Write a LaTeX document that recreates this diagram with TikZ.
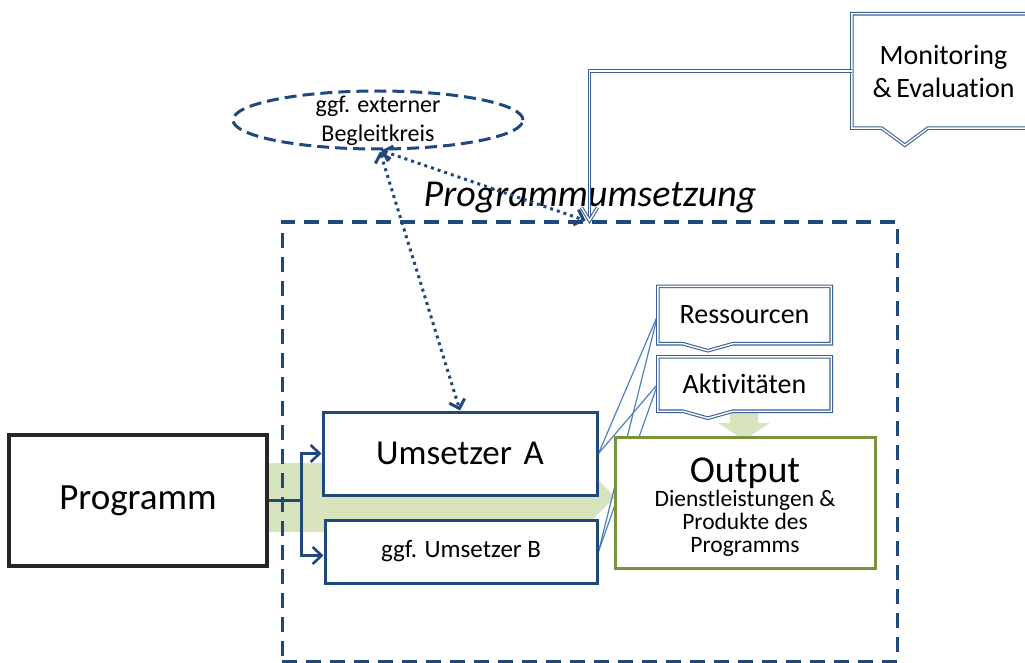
\documentclass[tikz,border=0pt]{standalone}
\usepackage{fontspec}
\setmainfont{Carlito}[Ligatures={NoCommon}]
\usetikzlibrary{arrows.meta,calc,shapes.geometric,backgrounds}
\definecolor{dblue}{HTML}{1F497D}
\definecolor{cblue}{HTML}{3A6193}
\definecolor{lblue}{HTML}{4F81BD}
\definecolor{ogreen}{HTML}{77933C}
\definecolor{lgreen}{HTML}{D7E4BD}
\definecolor{pgray}{HTML}{262626}
\begin{document}
\begin{tikzpicture}[x=1pt,y=-1pt,
  box/.style={draw=dblue, line width=3pt, fill=white, inner sep=0pt, align=center},
  conn/.style={draw=dblue, line width=2.6pt, -{Straight Barb[length=9pt,width=17pt]}},
  dotarrow/.style={draw=dblue, line width=3pt, dash pattern=on 3pt off 4pt,
     {Straight Barb[length=8pt,width=16pt]}-{Straight Barb[length=8pt,width=16pt]}},
  dline/.style={draw=cblue, double=white, line width=1.1pt, double distance=1.4pt, line join=miter},
  callout/.style={dline, fill=white},
  calltext/.style={inner sep=0pt, font=\fontsize{28}{32}\selectfont, align=center},
  thin/.style={draw=lblue, line width=1.2pt},
]
\useasboundingbox (0,0) rectangle (1025,663);

% frame of the programme implementation
\node[draw=dblue, line width=3pt, dash pattern=on 15pt off 9pt, minimum width=615pt, minimum height=439pt, inner sep=0pt] (pu) at (589.5,441.5) {};
\node[font=\fontsize{38}{40}\selectfont\itshape] (pulabel) at (590,198) {Programmumsetzung};

% boxes
\node[box, draw=pgray, line width=3.5pt, minimum width=258pt, minimum height=131pt, font=\fontsize{37}{40}\selectfont] (prog) at (138,500.5) {Programm};
\node[box, minimum width=274pt, minimum height=83pt, font=\fontsize{35}{38}\selectfont] (uA) at (460,453.5) {Umsetzer\,\,A};
\node[box, minimum width=272pt, minimum height=63pt, font=\fontsize{25}{28}\selectfont] (uB) at (461,551.5) {ggf. Umsetzer B};
\node[box, draw=ogreen, minimum width=260pt, minimum height=131pt] (out) at (745,502.5) {};
\node[inner sep=0pt, align=center, font=\fontsize{23.5}{23}\selectfont] (outtxt) at (745,507)
  {{\fontsize{38}{38}\selectfont Output}\\[1pt]
   Dienstleistungen \&\\Produkte des\\Programms};

% callouts
\node[calltext, minimum width=173pt, minimum height=57pt] (res) at (744.5,315) {};
\draw[callout] (res.north west) -- (res.north east) -- (res.south east)
  -- ($(res.south west)+(75,0)$) -- ($(res.south west)+(50,7)$) -- ($(res.south west)+(25,0)$) -- (res.south west) -- cycle;
\node[calltext] (restxt) at (res.center) {Ressourcen};

\node[calltext, minimum width=173pt, minimum height=54pt] (akt) at (744.5,384) {};
\draw[callout] (akt.north west) -- (akt.north east) -- (akt.south east)
  -- ($(akt.south west)+(75,0)$) -- ($(akt.south west)+(50,7)$) -- ($(akt.south west)+(25,0)$) -- (akt.south west) -- cycle;
\node[calltext] (akttxt) at (akt.center) {Aktivitäten};

\node[calltext, minimum width=183pt, minimum height=114pt] (mon) at (943.5,71) {};
\draw[callout] (mon.north west) -- (mon.north east) -- (mon.south east)
  -- ($(mon.south west)+(76,0)$) -- ($(mon.south west)+(53,17)$) -- ($(mon.south west)+(30,0)$) -- (mon.south west) -- cycle;
\node[calltext, font=\fontsize{28}{33}\selectfont] (montxt) at (mon.center) {Monitoring\\\&\,Evaluation};

% ellipse
\node[ellipse, draw=dblue, line width=3pt, dash pattern=on 12pt off 6pt, minimum width=290pt, minimum height=58pt, inner sep=0pt] (ell) at (378,120) {};
\node[font=\fontsize{24}{29}\selectfont, align=center, inner sep=0pt] (elltxt) at (378,121) {ggf. externer\\Begleitkreis};

% background shapes
\begin{scope}[on background layer]
  \fill[lgreen] (267,463) -- (566,463) -- (566,448) -- (615,497) -- (566,546) -- (566,532) -- (267,532) -- cycle;
  \fill[lgreen] (730,400) -- (758,400) -- (758,423) -- (770,423) -- (744,440) -- (718,423) -- (730,423) -- cycle;
  \draw[thin] (uA.east) -- (res.west);
  \draw[thin] (uA.east) -- (akt.west);
  \draw[thin] (uB.east) -- (res.west);
  \draw[thin] (uB.east) -- (akt.west);
\end{scope}

% connectors from Programm
\draw[draw=dblue, line width=2.6pt] (prog.east) -- ++(33,0) coordinate (split);
\draw[conn] (split) |- (uA.west);
\draw[conn] (split) |- ($(uB.west)+(0,4)$);

% dotted arrows
\draw[dotarrow] ($(ell.south)+(2,1)$) -- (uA.north);
\draw[dotarrow] (ell.-84) -- ($(pu.north)+(-4,0)$);

% monitoring connector
\draw[dline] (mon.west) -| (pu.north);
\draw[dline] ($(pu.north)+(-8,-13)$) -- (pu.north) -- ($(pu.north)+(8,-13)$);
\end{tikzpicture}
\end{document}
